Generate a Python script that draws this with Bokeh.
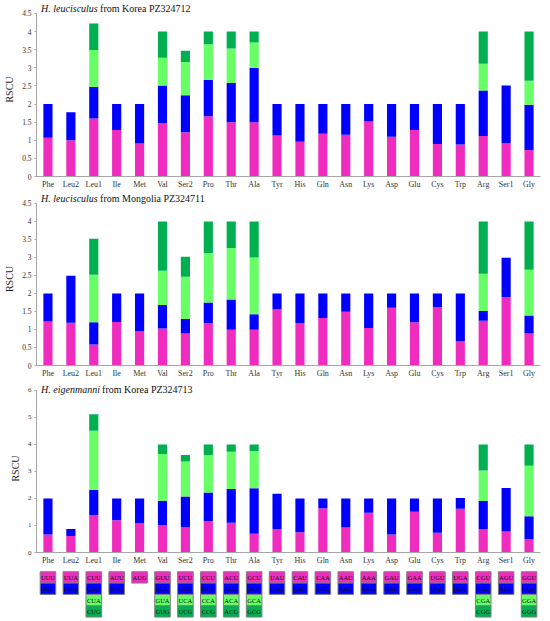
from bokeh.plotting import figure
from bokeh.layouts import column
from bokeh.models import (Label, Range1d, FactorRange, FixedTicker,
                          CustomJSTickFormatter, ColumnDataSource)
from bokeh.core.properties import value
from bokeh.embed import file_html
from bokeh.resources import INLINE

aa = ["Phe", "Leu2", "Leu1", "Ile", "Met", "Val", "Ser2", "Pro", "Thr", "Ala",
      "Tyr", "His", "Gln", "Asn", "Lys", "Asp", "Glu", "Cys", "Trp", "Arg",
      "Ser1", "Gly"]

codons = [["UUU", "UUC"], ["UUA", "UUG"], ["CUU", "CUC", "CUA", "CUG"],
          ["AUU", "AUC"], ["AUG"], ["GUU", "GUC", "GUA", "GUG"],
          ["UCU", "UCC", "UCA", "UCG"], ["CCU", "CCC", "CCA", "CCG"],
          ["ACU", "ACC", "ACA", "ACG"], ["GCU", "GCC", "GCA", "GCG"],
          ["UAU", "UAC"], ["CAU", "CAC"], ["CAA", "CAG"], ["AAU", "AAC"],
          ["AAA", "AAG"], ["GAU", "GAC"], ["GAA", "GAG"], ["UGU", "UGC"],
          ["UGA", "UGG"], ["CGU", "CGC", "CGA", "CGG"], ["AGU", "AGC"],
          ["GGU", "GGC", "GGA", "GGG"]]

# Panel 1: H. leucisculus from Korea PZ324712
k1_c1 = [1.07, 1.00, 1.60, 1.28, 0.91, 1.47, 1.22, 1.66, 1.50, 1.50, 1.13,
         0.96, 1.18, 1.15, 1.52, 1.10, 1.28, 0.90, 0.88, 1.12, 0.92, 0.73]
k1_c2 = [0.93, 0.77, 0.87, 0.72, 1.09, 1.04, 1.02, 1.00, 1.08, 1.50, 0.87,
         1.04, 0.82, 0.85, 0.48, 0.90, 0.72, 1.10, 1.12, 1.25, 1.59, 1.25]
k1_c3 = [0, 0, 1.02, 0, 0, 0.77, 0.92, 0.99, 0.95, 0.70, 0,
         0, 0, 0, 0, 0, 0, 0, 0, 0.74, 0, 0.66]
k1_c4 = [0, 0, 0.73, 0, 0, 0.72, 0.31, 0.35, 0.47, 0.30, 0,
         0, 0, 0, 0, 0, 0, 0, 0, 0.89, 0, 1.36]

# Panel 2: H. leucisculus from Mongolia PZ324711
m_c1 = [1.22, 1.19, 0.58, 1.21, 0.96, 1.03, 0.89, 1.17, 0.99, 0.99, 1.56,
        1.18, 1.32, 1.49, 1.04, 1.60, 1.20, 1.62, 0.68, 1.24, 1.90, 0.89]
m_c2 = [0.78, 1.30, 0.62, 0.79, 1.04, 0.65, 0.40, 0.58, 0.84, 0.43, 0.44,
        0.82, 0.68, 0.51, 0.96, 0.40, 0.80, 0.38, 1.32, 0.27, 1.09, 0.50]
m_c3 = [0, 0, 1.32, 0, 0, 0.95, 1.17, 1.37, 1.43, 1.58, 0,
        0, 0, 0, 0, 0, 0, 0, 0, 1.04, 0, 1.27]
m_c4 = [0, 0, 1.00, 0, 0, 1.37, 0.56, 0.88, 0.74, 1.00, 0,
        0, 0, 0, 0, 0, 0, 0, 0, 1.45, 0, 1.34]

# Panel 3: H. eigenmanni from Korea PZ324713
e_c1 = [0.67, 0.61, 1.38, 1.19, 1.08, 1.02, 0.94, 1.16, 1.10, 0.69, 0.86,
        0.75, 1.64, 0.93, 1.47, 0.67, 1.51, 0.73, 1.62, 0.87, 0.78, 0.50]
e_c2 = [1.33, 0.26, 0.93, 0.81, 0.92, 0.90, 1.13, 1.06, 1.25, 1.69, 1.32,
        1.25, 0.36, 1.07, 0.53, 1.33, 0.49, 1.27, 0.40, 1.04, 1.61, 0.84]
e_c3 = [0, 0, 2.20, 0, 0, 1.73, 1.30, 1.38, 1.38, 1.38, 0,
        0, 0, 0, 0, 0, 0, 0, 0, 1.13, 0, 1.87]
e_c4 = [0, 0, 0.61, 0, 0, 0.35, 0.24, 0.40, 0.27, 0.24, 0,
        0, 0, 0, 0, 0, 0, 0, 0, 0.96, 0, 0.79]

panel_titles = [("H. leucisculus", "from Korea PZ324712"),
                ("H. leucisculus", "from Mongolia PZ324711"),
                ("H. eigenmanni", "from Korea PZ324713")]

colors = ["#F02BBF", "#0000FF", "#66FF66", "#00B050"]
FONT = "Liberation Serif"
AXIS_GRAY = "#A6A6A6"
TEXT = "#333333"
W = 550
BL, BR = 36, 10


def make_panel(vals, ymax, ticks, titles, tick_size, bt, bb, fh, extra, toff, xoff):
    src = ColumnDataSource(dict(aa=aa, c1=vals[0], c2=vals[1], c3=vals[2], c4=vals[3]))
    yend = ymax * (fh + extra) / fh
    p = figure(x_range=FactorRange(*aa), y_range=Range1d(0, yend),
               width=W, height=bt + fh + extra + bb,
               min_border_left=BL, min_border_right=BR,
               min_border_top=bt, min_border_bottom=bb,
               toolbar_location=None, output_backend="svg")
    p.vbar_stack(["c1", "c2", "c3", "c4"], x="aa", width=0.4, source=src,
                 fill_color=colors, line_color=None)
    p.grid.visible = False
    p.outline_line_color = None
    p.background_fill_color = "white"

    p.yaxis.bounds = (0, ymax)
    p.yaxis.ticker = FixedTicker(ticks=ticks)
    p.yaxis.formatter = CustomJSTickFormatter(code="return tick.toString();")
    p.yaxis.axis_label = "RSCU"
    p.yaxis.axis_label_text_font = FONT
    p.yaxis.axis_label_text_font_style = "normal"
    p.yaxis.axis_label_text_font_size = "10px"
    p.yaxis.axis_label_text_color = "#222222"
    p.yaxis.axis_label_standoff = 4
    p.yaxis.major_label_text_font = FONT
    p.yaxis.major_label_text_font_size = tick_size
    p.yaxis.major_label_text_color = TEXT
    p.yaxis.major_label_standoff = 3
    p.yaxis.major_tick_out = 2
    p.yaxis.major_tick_in = 0
    p.yaxis.major_tick_line_color = AXIS_GRAY
    p.yaxis.minor_tick_line_color = None
    p.yaxis.axis_line_color = AXIS_GRAY

    p.xaxis.major_label_text_font = FONT
    p.xaxis.major_label_text_font_size = "8px"
    p.xaxis.major_label_text_color = TEXT
    p.xaxis.major_label_standoff = 3
    p.xaxis.major_tick_out = 0
    p.xaxis.major_tick_in = 0
    p.xaxis.major_tick_line_color = None
    p.xaxis.axis_line_color = AXIS_GRAY

    p.add_layout(Label(x=0.2, y=ymax, y_offset=toff, text=titles[0],
                       text_font=FONT, text_font_style="italic",
                       text_font_size="10px", text_baseline="middle",
                       text_color="#111111"))
    p.add_layout(Label(x=0.2, y=ymax, y_offset=toff, x_offset=xoff, text=titles[1],
                       text_font=FONT, text_font_style="normal",
                       text_font_size="10px", text_baseline="middle",
                       text_color="#111111"))
    return p


t45 = [0, 0.5, 1, 1.5, 2, 2.5, 3, 3.5, 4, 4.5]
# fig1: canvas 0, 4.5 at 13, 0 at 177
p1 = make_panel([k1_c1, k1_c2, k1_c3, k1_c4], 4.5, t45, panel_titles[0],
                "7.5px", 2, 14, 164, 11, 5, 59)
# fig2: canvas 191, 4.5 at 203, 0 at 367
p2 = make_panel([m_c1, m_c2, m_c3, m_c4], 4.5, t45, panel_titles[1],
                "7.5px", 1, 13, 164, 11, 5, 59)
# fig3: canvas 380, 6 at 390, 0 at 553
p3 = make_panel([e_c1, e_c2, e_c3, e_c4], 6, [0, 1, 2, 3, 4, 5, 6],
                panel_titles[2], "7px", 4, 14, 163, 6, 1, 61)

# codon table (canvas 567, row centres 577/588/600/611)
cx, cy, ct, cc = [], [], [], []
for a, cl in zip(aa, codons):
    for j, c in enumerate(cl):
        cx.append(a)
        cy.append(j)
        ct.append(c)
        cc.append(colors[j])
csrc = ColumnDataSource(dict(x=cx, y=cy, codon=ct, color=cc))

p4 = figure(x_range=FactorRange(*aa), y_range=Range1d(3.716, -0.874),
            width=W, height=52, min_border_left=BL, min_border_right=BR,
            min_border_top=0, min_border_bottom=0,
            x_axis_location=None, y_axis_location=None,
            toolbar_location=None, output_backend="svg")
p4.rect(x="x", y="y", width=0.68, height=1, source=csrc, fill_color="color",
        line_color="#7F7F7F", line_width=1)
p4.text(x="x", y="y", text="codon", source=csrc, text_align="center",
        text_baseline="middle", text_font=value(FONT),
        text_font_size=value("6.5px"), text_color="#111111")
p4.grid.visible = False
p4.outline_line_color = None

layout = column(p1, p2, p3, p4, spacing=0)
open("out.html", "w").write(file_html(layout, INLINE))
